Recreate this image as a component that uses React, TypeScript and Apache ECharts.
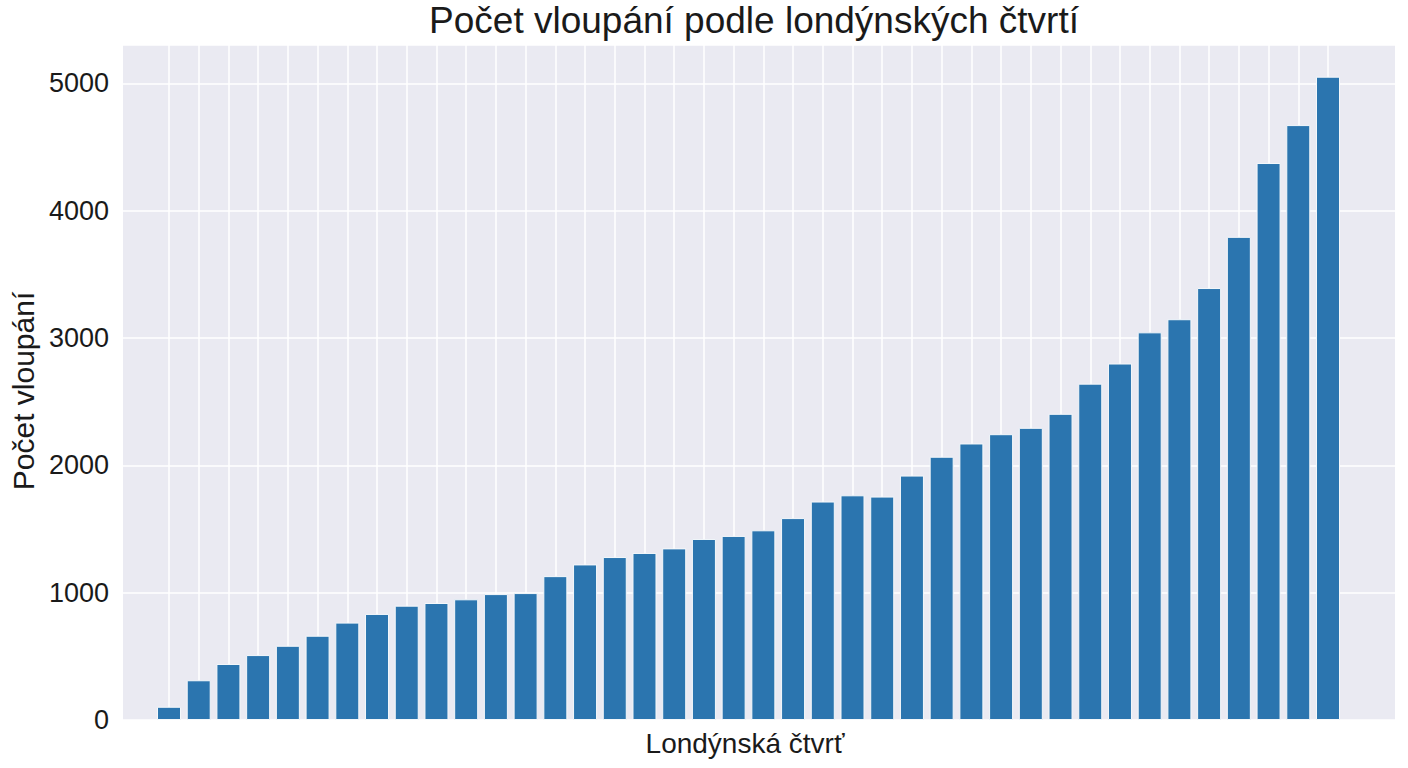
import React, { useEffect, useRef } from 'react';
import * as echarts from 'echarts';

// počet vloupání v jednotlivých čtvrtích, seřazeno vzestupně
const burglaries = [
  104, 312, 440, 510, 583, 662, 765, 833, 898, 919,
  948, 989, 997, 1130, 1222, 1280, 1312, 1348, 1422, 1446,
  1490, 1586, 1716, 1765, 1755, 1920, 2068, 2172, 2245, 2295,
  2405, 2642, 2800, 3045, 3148, 3393, 3795, 4375, 4673, 5053,
];
const yMax = 5302;
const yStep = 1000;

const title = 'Počet vloupání podle londýnských čtvrtí';
const xName = 'Londýnská čtvrť';
const yName = 'Počet vloupání';

const FONT = '"Liberation Sans", Arial, sans-serif';
const BG = '#EAEAF2';
const BAR = '#2B75AF';

export default function App() {
  const chartRef = useRef<HTMLDivElement>(null);

  useEffect(() => {
    if (!chartRef.current) return;
    const chart = echarts.init(chartRef.current, undefined, { renderer: 'svg' });

    chart.setOption({
      animation: false,
      textStyle: { fontFamily: FONT },
      title: {
        text: title,
        left: 754,
        top: 2,
        padding: 0,
        textAlign: 'center',
        textStyle: { fontFamily: FONT, fontSize: 37, fontWeight: 'normal', color: '#1a1a1a' },
      },
      grid: [
        // šedé pozadí celé plochy grafu
        { left: 115, right: 13, top: 45, bottom: 48, show: true, backgroundColor: BG, borderWidth: 0 },
        // vnitřní oblast se sloupci
        { left: 169, right: 80, top: 45, bottom: 48 },
      ],
      xAxis: [
        {
          gridIndex: 0,
          type: 'value',
          min: 0,
          max: 1,
          show: true,
          axisLine: { show: false },
          axisTick: { show: false },
          axisLabel: { show: false },
          splitLine: { show: false },
          name: xName,
          nameLocation: 'middle',
          nameGap: 9,
          nameTextStyle: { fontFamily: FONT, fontSize: 28, color: '#1a1a1a', padding: [0, 28, 0, 0] },
        },
        {
          gridIndex: 1,
          type: 'value',
          min: 0,
          max: burglaries.length - 1,
          interval: 1,
          axisLine: { show: false },
          axisTick: { show: false },
          axisLabel: { show: false },
          splitLine: { show: true, lineStyle: { color: '#ffffff', width: 1.5 } },
        },
      ],
      yAxis: [
        {
          gridIndex: 0,
          type: 'value',
          min: 0,
          max: yMax,
          interval: yStep,
          axisLine: { show: false },
          axisTick: { show: false },
          axisLabel: {
            fontFamily: FONT,
            fontSize: 27,
            color: '#1a1a1a',
            margin: 14,
            showMaxLabel: false,
            formatter: (v: number) => String(v),
          },
          splitLine: { show: true, lineStyle: { color: '#ffffff', width: 1.5 } },
          name: yName,
          nameLocation: 'middle',
          nameGap: 77,
          nameTextStyle: { fontFamily: FONT, fontSize: 30, color: '#1a1a1a', padding: [0, 17, 0, 0] },
        },
        {
          gridIndex: 1,
          type: 'value',
          min: 0,
          max: yMax,
          show: false,
        },
      ],
      series: [
        {
          type: 'bar',
          xAxisIndex: 1,
          yAxisIndex: 1,
          clip: false,
          barWidth: 24,
          data: burglaries.map((v, i) => [i, v]),
          itemStyle: { color: BAR, borderColor: '#f4f8fb', borderWidth: 1 },
        },
      ],
    });

    return () => {
      chart.dispose();
    };
  }, []);

  return (
    <div
      ref={chartRef}
      style={{ position: 'fixed', left: 0, top: 0, width: 1408, height: 768, background: '#ffffff' }}
    />
  );
}
